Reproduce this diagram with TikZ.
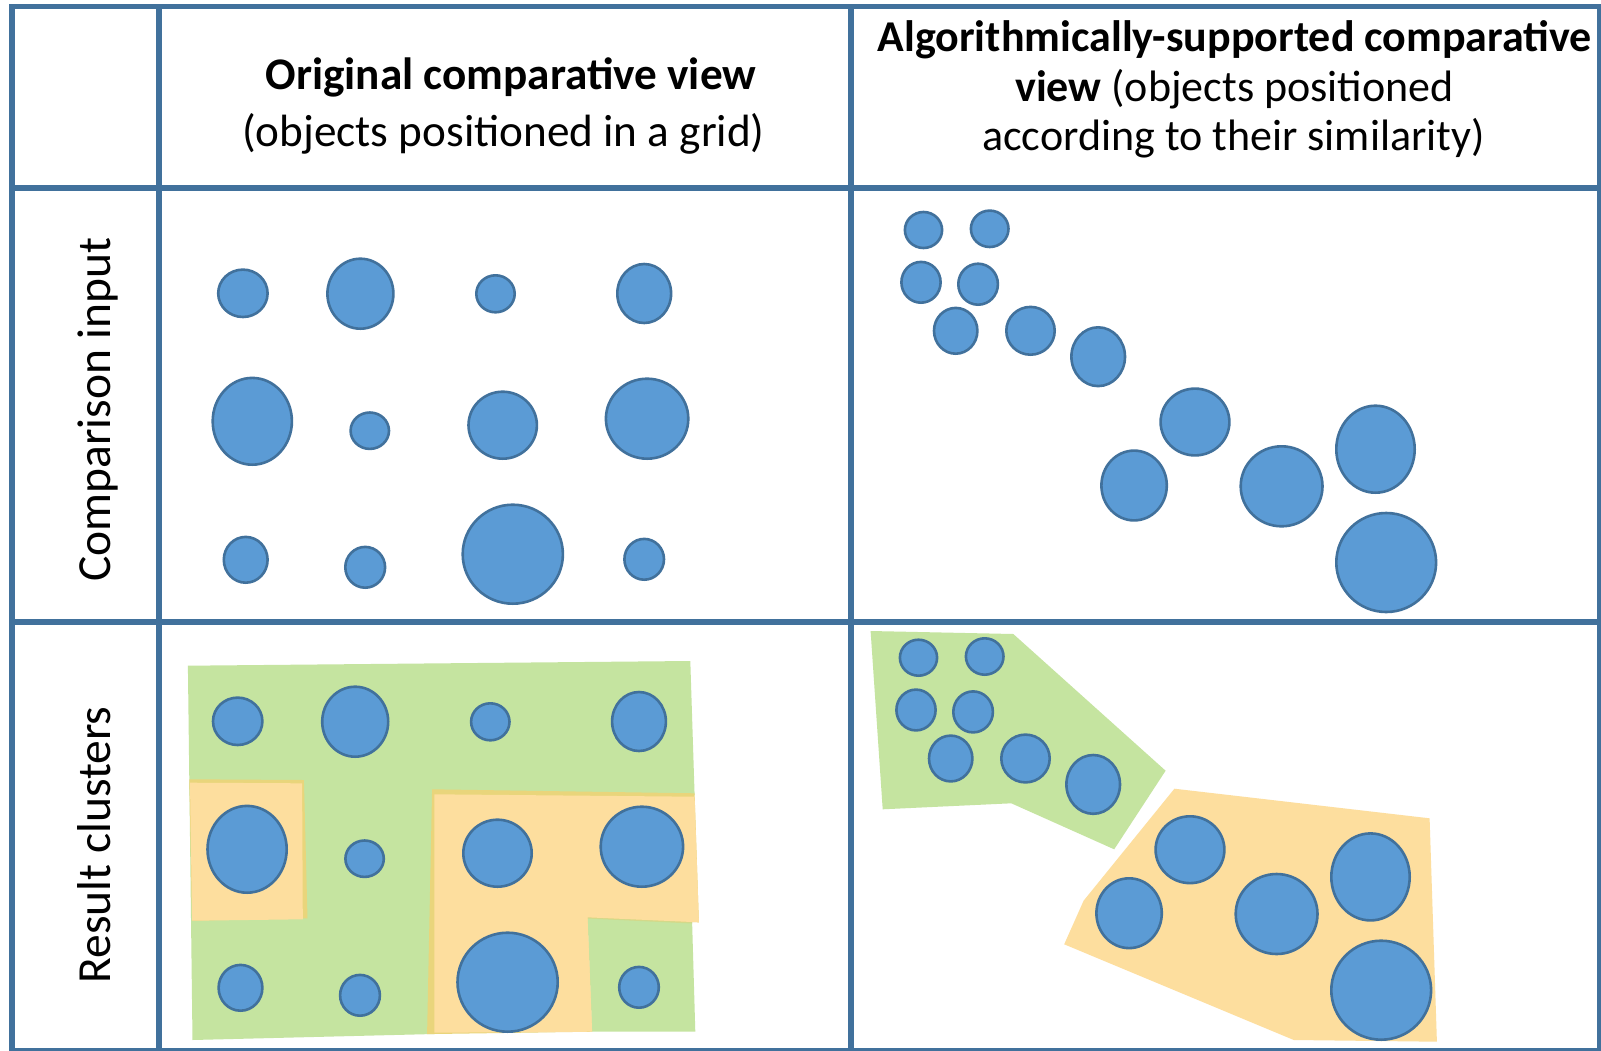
\documentclass[tikz,border=0pt]{standalone}
\usepackage{fontspec}
\setmainfont{Carlito}
\definecolor{gridline}{HTML}{41719C}
\definecolor{blobfill}{HTML}{5B9BD5}
\definecolor{blobline}{HTML}{41719C}
\definecolor{grn}{HTML}{C5E4A0}
\definecolor{grndark}{HTML}{D3D98A}
\definecolor{org}{HTML}{FDDE9E}
\definecolor{orgdark}{HTML}{E9D57B}
\begin{document}
\begin{tikzpicture}[x=1pt,y=-1pt,
  blob/.style={fill=blobfill,draw=blobline,line width=2.6pt},
  tableline/.style={draw=gridline,line width=5.8pt},
  hdr/.style={anchor=base,inner sep=0pt,font=\fontsize{44}{50}\selectfont},
  hdrleft/.style={anchor=base,inner sep=0pt,font=\fontsize{45.2}{52}\selectfont},
  rowlab/.style={anchor=base,inner sep=0pt,rotate=90,font=\fontsize{47.5}{55}\selectfont},
  greenarea/.style={fill=grn},
  orangearea/.style={fill=org},
  orangeedge/.style={fill=orgdark}]
\useasboundingbox (0,0) rectangle (1601,1050);
\fill[white] (0,0) rectangle (1601,1050);

% ---------- cluster areas, bottom-left ----------
\fill[greenarea] (187.9,665.7) -- (690.3,661) -- (694.6,795) -- (432.1,791.7)
  -- (433.9,1034) -- (192.5,1040) -- cycle;
\fill[greenarea] (587.5,916.7) -- (692.1,921.7) -- (695.3,1031.7) -- (592.1,1031.7) -- cycle;
\draw[grndark,line width=2pt] (587.5,917.5) -- (692.1,922.5);
\fill[orangeedge] (189.3,779.3) -- (303.9,780) -- (307.5,918.3) -- (192.1,920.7) -- cycle;
\fill[orangearea] (190,782.7) -- (302.1,783.3) -- (302.8,919.3) -- (192.1,920.7) -- cycle;
\fill[orangeedge] (432.1,789.3) -- (694.6,793.3) -- (698.9,922.3) -- (587.5,917.3)
  -- (592.1,1031.7) -- (433.9,1034) -- (427.1,1034) -- cycle;
\fill[orangearea] (434.3,794.3) -- (694.6,796.7) -- (698.9,922.3) -- (587.5,917.3)
  -- (592.1,1031.7) -- (434.3,1032.7) -- cycle;

% ---------- cluster areas, bottom-right ----------
\fill[greenarea] (870.6,631) -- (1013.3,634) -- (1165.6,770.7) -- (1114.2,849.3)
  -- (1011.3,803.3) -- (882.7,809.3) -- cycle;
\fill[orangearea] (1174.4,788.7) -- (1429.6,818.3) -- (1436.9,1041.7) -- (1293.8,1040)
  -- (1064.2,944.3) -- (1083.6,900.7) -- cycle;

% ---------- objects, grid view ----------
\foreach \dx/\dy in {0/0,-5.2/428}{
  \begin{scope}[shift={(\dx,\dy)}]
  \foreach \cx/\cy/\rx/\ry in {
      242.9/293.3/24.7/23.7, 360.4/293.7/33.0/35.0, 495.5/293.8/19.2/18.5, 644.2/293.5/26.9/29.5,
      252.3/421.3/39.6/43.4, 369.8/430.7/19.2/18.2, 502.7/425.2/34.2/33.5, 647.1/418.7/41.2/40.0,
      245.7/559.8/21.9/22.9, 365.2/567.3/19.9/20.4, 512.8/554.2/50.1/49.5, 644.2/559.3/19.8/20.4}
    \draw[blob] (\cx,\cy) ellipse [x radius=\rx, y radius=\ry];
  \end{scope}
}

% ---------- objects, similarity view ----------
\foreach \dx/\dy in {0/0,-5.0/427.7}{
  \begin{scope}[shift={(\dx,\dy)}]
  \foreach \cx/\cy/\rx/\ry in {
      923.5/230/18.6/18.0, 989.7/228.8/18.8/18.2, 921/282.3/19.6/20.4, 978.1/284.2/19.8/20.5,
      955.7/330.8/21.7/22.9, 1030.5/330.8/24.2/23.9, 1098.2/356.7/26.8/29.4, 1195/422/34.4/33.4,
      1134.1/485.5/32.7/34.9, 1281.6/486.3/40.9/40.0, 1375.5/449.2/39.2/43.5, 1386.2/562.5/49.9/49.5}
    \draw[blob] (\cx,\cy) ellipse [x radius=\rx, y radius=\ry];
  \end{scope}
}

% ---------- table ----------
\coordinate (tl) at (12,6.5);
\coordinate (br) at (1599.5,1050.5);
\coordinate (v1t) at (158.7,6.5);  \coordinate (v1b) at (158.7,1050.5);
\coordinate (v2t) at (851.3,6.5);  \coordinate (v2b) at (851.3,1050.5);
\coordinate (h1l) at (12,188.3);   \coordinate (h1r) at (1599.5,188.3);
\coordinate (h2l) at (12,622);     \coordinate (h2r) at (1599.5,622);
\draw[tableline] (tl) rectangle (br);
\draw[tableline] (v1t) -- (v1b);
\draw[tableline] (v2t) -- (v2b);
\draw[tableline] (h1l) -- (h1r);
\draw[tableline] (h2l) -- (h2r);

% ---------- texts ----------
\node[hdrleft] (h1a) at (511,89.3) {\textbf{Original comparative view}};
\node[hdrleft] (h1b) at (503.5,146) {(objects positioned in a grid)};
\node[hdr] (h2a) at (1234.7,51.7) {\textbf{Algorithmically-supported comparative}};
\node[hdr] (h2b) at (1234.5,101.7) {\textbf{view} (objects positioned};
\node[hdr] (h2c) at (1233.5,150.7) {according to their similarity)};
\node[rowlab] (r1) at (110,409.5) {Comparison input};
\node[rowlab] (r2) at (110,845) {Result clusters};
\end{tikzpicture}
\end{document}
